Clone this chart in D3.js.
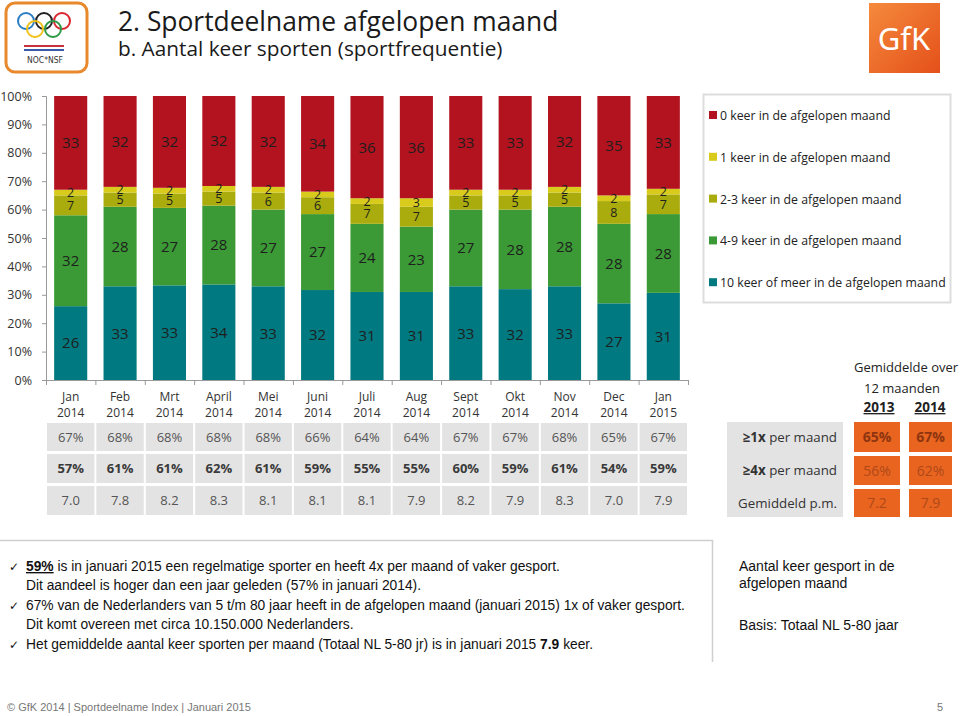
<!DOCTYPE html>
<html><head><meta charset="utf-8">
<script src="https://cdn.jsdelivr.net/npm/d3@7/dist/d3.min.js"></script>
<style>body{margin:0;background:#fff}svg{display:block}</style>
</head><body>
<svg id="c" width="960" height="716"></svg>
<script>
// ---------- DATA ----------
const months = ["Jan","Feb","Mrt","April","Mei","Juni","Juli","Aug","Sept","Okt","Nov","Dec","Jan"];
const years  = ["2014","2014","2014","2014","2014","2014","2014","2014","2014","2014","2014","2014","2015"];
const s10plus = [26,33,33,34,33,32,31,31,33,32,33,27,31];
const s4to9   = [32,28,27,28,27,27,24,23,27,28,28,28,28];
const s2to3   = [7,5,5,5,6,6,7,7,5,5,5,8,7];
const s1      = [2,2,2,2,2,2,2,3,2,2,2,2,2];
const s0      = [33,32,32,32,32,34,36,36,33,33,32,35,33];
const seriesKeys   = ["s10","s49","s23","s1","s0"];
const seriesNames  = ["10 keer of meer in de afgelopen maand","4-9 keer in de afgelopen maand","2-3 keer in de afgelopen maand","1 keer in de afgelopen maand","0 keer in de afgelopen maand"];
const seriesColors = ["#007a80","#3b9a35","#a9ac0c","#d8cb1c","#b3121f"];
const yTicks = [0,0.1,0.2,0.3,0.4,0.5,0.6,0.7,0.8,0.9,1];
const row1x  = ["67%","68%","68%","68%","68%","66%","64%","64%","67%","67%","68%","65%","67%"];
const row4x  = ["57%","61%","61%","62%","61%","59%","55%","55%","60%","59%","61%","54%","59%"];
const rowAvg = ["7.0","7.8","8.2","8.3","8.1","8.1","8.1","7.9","8.2","7.9","8.3","7.0","7.9"];
const avgLabels = [["≥1x"," per maand"],["≥4x"," per maand"],["","Gemiddeld p.m."]];
const avg2013 = ["65%","56%","7.2"];
const avg2014 = ["67%","62%","7.9"];

const table = months.map((m,i)=>({s10:s10plus[i],s49:s4to9[i],s23:s2to3[i],s1:s1[i],s0:s0[i]}));

// ---------- SETUP ----------
const svg = d3.select("#c");
const FONT = "'Open Sans', 'Noto Sans', sans-serif";
svg.style("font-family", FONT);

// ---------- HEADER ----------
const logo = svg.append("g");
logo.append("rect").attr("x",6).attr("y",3).attr("width",81).attr("height",69).attr("rx",9)
  .attr("fill","#fff").attr("stroke","#e9892d").attr("stroke-width",3);
const rings = [[26,21,"#2a7fc4"],[44,21,"#222"],[62,21,"#d9262e"],[35,29,"#f2c21a"],[53,29,"#2e9a48"]];
logo.selectAll("circle").data(rings).join("circle")
  .attr("cx",d=>d[0]).attr("cy",d=>d[1]).attr("r",8).attr("fill","none")
  .attr("stroke",d=>d[2]).attr("stroke-width",2);
logo.append("rect").attr("x",24).attr("y",45).attr("width",40).attr("height",2).attr("fill","#c7333a");
logo.append("rect").attr("x",24).attr("y",49).attr("width",40).attr("height",2).attr("fill","#3a5ba8");
logo.append("text").attr("x",45).attr("y",63).attr("text-anchor","middle").attr("font-size",8.5)
  .attr("font-family","'DejaVu Sans Condensed','Liberation Sans Narrow',sans-serif").attr("fill","#333").text("NOC*NSF");

svg.append("text").attr("x",118).attr("y",31).attr("font-size",26.4).attr("fill","#1a1a1a")
  .text("2. Sportdeelname afgelopen maand");
svg.append("text").attr("x",118).attr("y",56).attr("font-size",20.8).attr("fill","#1a1a1a")
  .text("b. Aantal keer sporten (sportfrequentie)");

const grad = svg.append("defs").append("linearGradient").attr("id","gfkg").attr("x1",0).attr("y1",0).attr("x2",1).attr("y2",1);
grad.append("stop").attr("offset","0%").attr("stop-color","#f58a3c");
grad.append("stop").attr("offset","100%").attr("stop-color","#e4501a");
svg.append("rect").attr("x",869).attr("y",3).attr("width",71).attr("height",70).attr("fill","url(#gfkg)");
svg.append("text").attr("x",904).attr("y",50).attr("text-anchor","middle").attr("font-size",31)
  .attr("fill","#fff").attr("font-family","'Noto Sans',sans-serif").text("GfK");

// ---------- CHART ----------
const x = d3.scaleBand().domain(d3.range(months.length)).range([46,688]).paddingInner(0.33).paddingOuter(0.165);
const xb = d3.scaleLinear().domain([0,months.length]).range([46,688]);
const y = d3.scaleLinear().domain([0,1]).range([380,96]);

const stack = d3.stack().keys(seriesKeys).offset(d3.stackOffsetExpand);
const layers = stack(table);

const gBars = svg.append("g");
layers.forEach((layer,li)=>{
  gBars.append("g").attr("fill",seriesColors[li]).selectAll("rect").data(layer).join("rect")
    .attr("x",(d,i)=>x(i)).attr("width",x.bandwidth())
    .attr("y",d=>y(d[1])).attr("height",d=>y(d[0])-y(d[1]));
});
layers.forEach((layer,li)=>{
  const small = seriesKeys[li]==="s1"||seriesKeys[li]==="s23";
  gBars.append("g").selectAll("text").data(layer).join("text")
    .attr("x",(d,i)=>x(i)+x.bandwidth()/2)
    .attr("y",d=>y((d[0]+d[1])/2))
    .attr("dy","0.36em").attr("text-anchor","middle")
    .attr("font-size",small?12.5:15).attr("fill","#1e1e1e")
    .text((d,i)=>d.data[seriesKeys[li]]);
});

// axes
const yAxis = svg.append("g").attr("transform","translate(46,0)")
  .call(d3.axisLeft(y).tickValues(yTicks).tickFormat(d3.format(".0%")).tickSize(4).tickPadding(10));
yAxis.selectAll("text").attr("font-size",12.5).attr("fill","#333").attr("font-family",FONT);
yAxis.selectAll("line,path").attr("stroke","#999");

const xAxis = svg.append("g").attr("transform","translate(0,380)")
  .call(d3.axisBottom(xb).tickValues(d3.range(months.length+1)).tickFormat("").tickSize(5).tickSizeOuter(0));
xAxis.selectAll("line,path").attr("stroke","#999");

const xl = svg.append("g").selectAll("text").data(months).join("text")
  .attr("x",(d,i)=>x(i)+x.bandwidth()/2).attr("text-anchor","middle")
  .attr("font-size",12).attr("fill","#333");
xl.append("tspan").attr("x",(d,i)=>x(i)+x.bandwidth()/2).attr("y",401).text(d=>d);
xl.append("tspan").attr("x",(d,i)=>x(i)+x.bandwidth()/2).attr("y",417).text((d,i)=>years[i]);

// ---------- LEGEND ----------
svg.append("rect").attr("x",703.5).attr("y",94.5).attr("width",247).attr("height",208)
  .attr("fill","#fff").attr("stroke","#ddd").attr("stroke-width",2);
const legOrder = [4,3,2,1,0];
const leg = svg.append("g").selectAll("g").data(legOrder).join("g")
  .attr("transform",(d,i)=>`translate(709,${116+i*41.8})`);
leg.append("rect").attr("x",0).attr("y",-5).attr("width",8).attr("height",8).attr("fill",d=>seriesColors[d]);
leg.append("text").attr("x",11).attr("y",4).attr("font-size",12.3).attr("fill","#222").text(d=>seriesNames[d]);

// ---------- BOTTOM TABLE ----------
const rows = [
  {vals:row1x, y:423, h:28, bold:false},
  {vals:row4x, y:454, h:29, bold:true},
  {vals:rowAvg, y:486, h:29, bold:false}
];
const gT = svg.append("g");
rows.forEach(r=>{
  gT.append("g").selectAll("rect").data(r.vals).join("rect")
    .attr("x",(d,i)=>xb(i)+1).attr("width",(d,i)=>xb(i+1)-xb(i)-2)
    .attr("y",r.y).attr("height",r.h).attr("fill","#e3e3e3");
  gT.append("g").selectAll("text").data(r.vals).join("text")
    .attr("x",(d,i)=>(xb(i)+xb(i+1))/2).attr("y",r.y+r.h/2).attr("dy","0.36em")
    .attr("text-anchor","middle").attr("font-size",13)
    .attr("font-weight",r.bold?"bold":"normal").attr("fill",r.bold?"#3a3a3a":"#555")
    .text(d=>d);
});

// ---------- RIGHT SUMMARY ----------
svg.append("text").attr("x",906).attr("y",372).attr("text-anchor","middle").attr("font-size",13).attr("fill","#222").text("Gemiddelde over");
svg.append("text").attr("x",902).attr("y",393).attr("text-anchor","middle").attr("font-size",13).attr("fill","#222").text("12 maanden");
[["2013",879],["2014",930]].forEach(([t,cx])=>{
  svg.append("text").attr("x",cx).attr("y",412).attr("text-anchor","middle").attr("font-size",13.5)
    .attr("font-weight","bold").attr("text-decoration","underline").attr("fill","#222").text(t);
});
svg.append("rect").attr("x",727).attr("y",422).attr("width",116).attr("height",95).attr("fill","#e3e3e3");
const sumRows = [{y:422,h:30},{y:456,h:29},{y:489,h:28}];
sumRows.forEach((r,i)=>{
  const t = svg.append("text").attr("x",837).attr("y",r.y+r.h/2).attr("dy","0.36em")
    .attr("text-anchor","end").attr("font-size",13.3).attr("fill","#333");
  if(avgLabels[i][0]) t.append("tspan").attr("font-weight","bold").text(avgLabels[i][0]);
  t.append("tspan").text(avgLabels[i][1]);
  [[avg2013,854,46],[avg2014,909,43]].forEach(([arr,xx,w])=>{
    svg.append("rect").attr("x",xx).attr("y",r.y).attr("width",w).attr("height",r.h).attr("fill","#e8641f");
    svg.append("text").attr("x",xx+w/2).attr("y",r.y+r.h/2).attr("dy","0.36em").attr("text-anchor","middle")
      .attr("font-size",14).attr("font-weight",i===0?"bold":"normal")
      .attr("fill",i===0?"#8e3510":"#b0491a").text(arr[i]);
  });
});

// ---------- NOTES ----------
svg.append("path").attr("d","M0,540.5H712.5V662").attr("fill","none").attr("stroke","#cfcfcf").attr("stroke-width",1.5);
const NF = "'Liberation Sans', Arial, sans-serif";
const notes = svg.append("g").attr("font-family",NF).attr("font-size",13.8).attr("fill","#111");
const lines = [
  {y:571, check:true, parts:[["59%","bu"],[" is in januari 2015 een regelmatige sporter en heeft 4x per maand of vaker gesport.",""]]},
  {y:590, check:false, parts:[["Dit aandeel is hoger dan een jaar geleden (57% in januari 2014).",""]]},
  {y:610, check:true, parts:[["67% van de Nederlanders van 5 t/m 80 jaar heeft in de afgelopen maand (januari 2015) 1x of vaker gesport.",""]]},
  {y:629, check:false, parts:[["Dit komt overeen met circa 10.150.000 Nederlanders.",""]]},
  {y:649, check:true, parts:[["Het gemiddelde aantal keer sporten per maand (Totaal NL 5-80 jr) is in januari 2015 ",""],["7.9","b"],[" keer.",""]]}
];
lines.forEach(l=>{
  if(l.check) notes.append("text").attr("x",9).attr("y",l.y).attr("font-family","'DejaVu Sans',sans-serif").attr("font-size",12).text("✓");
  const t = notes.append("text").attr("x",26).attr("y",l.y);
  l.parts.forEach(([s,f])=>{
    const ts = t.append("tspan").text(s);
    if(f.includes("b")) ts.attr("font-weight","bold");
    if(f.includes("u")) ts.attr("text-decoration","underline");
  });
});
const side = svg.append("g").attr("font-family",NF).attr("font-size",14).attr("fill","#111");
side.append("text").attr("x",739).attr("y",571).text("Aantal keer gesport in de");
side.append("text").attr("x",739).attr("y",588).text("afgelopen maand");
side.append("text").attr("x",739).attr("y",630).text("Basis: Totaal NL 5-80 jaar");

// ---------- FOOTER ----------
svg.append("text").attr("x",7).attr("y",711).attr("font-family",NF).attr("font-size",11).attr("fill","#777")
  .text("© GfK 2014 | Sportdeelname Index  |  Januari 2015");
svg.append("text").attr("x",937).attr("y",711).attr("font-family",NF).attr("font-size",11).attr("fill","#777").text("5");
</script>
</body></html>
